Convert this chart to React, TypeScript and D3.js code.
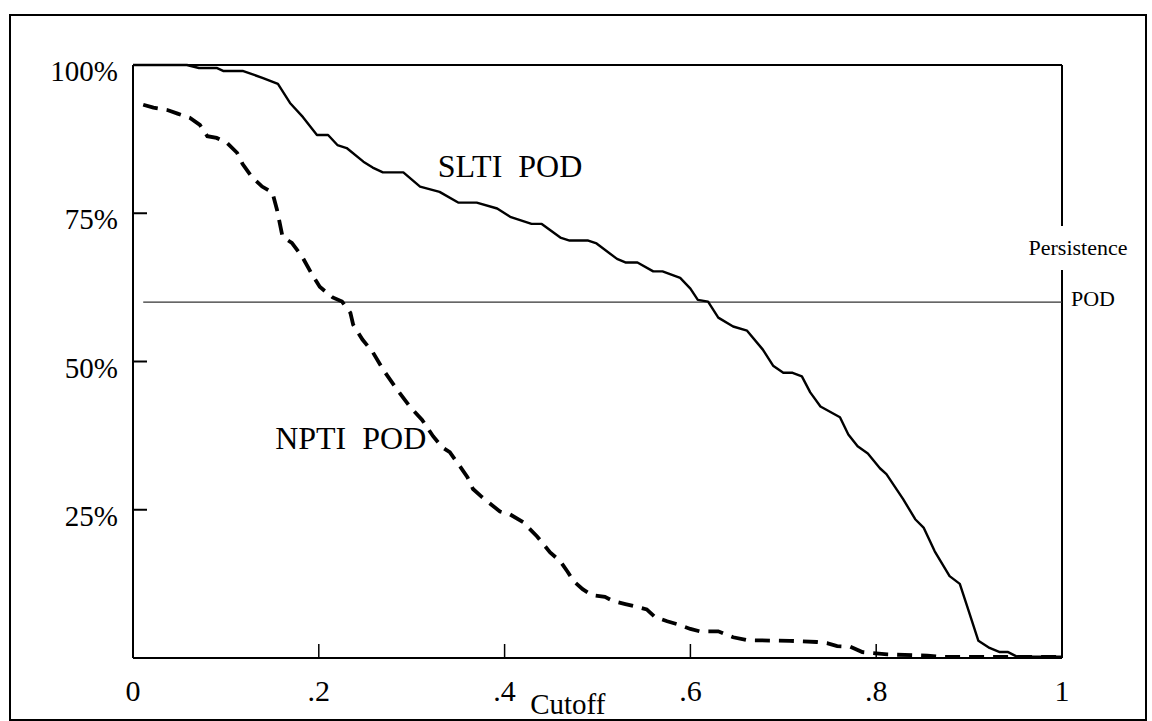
import { useMemo } from 'react';
import * as d3 from 'd3';

// SLTI POD (solid curve)
const sltiCutoff = [0, 0.058, 0.071, 0.09, 0.097, 0.118, 0.14, 0.156, 0.169, 0.183, 0.198, 0.21, 0.22, 0.23, 0.248, 0.258, 0.269, 0.291, 0.309, 0.33, 0.35, 0.37, 0.392, 0.406, 0.429, 0.44, 0.46, 0.47, 0.49, 0.499, 0.521, 0.53, 0.543, 0.56, 0.57, 0.589, 0.6, 0.608, 0.619, 0.63, 0.646, 0.661, 0.678, 0.689, 0.7, 0.71, 0.72, 0.729, 0.74, 0.761, 0.77, 0.78, 0.791, 0.804, 0.811, 0.829, 0.842, 0.851, 0.863, 0.879, 0.89, 0.899, 0.91, 0.922, 0.933, 0.942, 0.952, 1.0];
const sltiPod = [100, 100, 99.5, 99.5, 99, 99, 97.8, 96.8, 93.6, 91.2, 88.2, 88.2, 86.5, 86, 83.7, 82.7, 81.9, 81.9, 79.5, 78.6, 76.8, 76.8, 75.8, 74.4, 73.2, 73.2, 70.9, 70.4, 70.4, 69.9, 67.3, 66.7, 66.7, 65.2, 65.2, 64.1, 62.3, 60.4, 60.1, 57.4, 55.9, 55.2, 52.0, 49.3, 48.1, 48.1, 47.5, 44.8, 42.4, 40.6, 37.7, 35.7, 34.5, 32.0, 31.0, 26.8, 23.4, 22.0, 18.0, 13.8, 12.5, 8.2, 2.9, 1.7, 1.0, 1.0, 0.2, 0.2];

// NPTI POD (dashed curve)
const nptiCutoff = [0.011, 0.022, 0.037, 0.048, 0.061, 0.072, 0.08, 0.09, 0.101, 0.112, 0.118, 0.128, 0.139, 0.15, 0.155, 0.161, 0.171, 0.182, 0.193, 0.201, 0.215, 0.225, 0.234, 0.237, 0.247, 0.258, 0.269, 0.284, 0.298, 0.311, 0.323, 0.333, 0.341, 0.352, 0.36, 0.366, 0.376, 0.395, 0.406, 0.42, 0.435, 0.449, 0.46, 0.468, 0.474, 0.484, 0.494, 0.508, 0.517, 0.53, 0.543, 0.553, 0.562, 0.575, 0.586, 0.6, 0.61, 0.63, 0.646, 0.661, 0.707, 0.736, 0.747, 0.758, 0.772, 0.785, 0.812, 0.855, 0.872, 0.933, 0.998];
const nptiPod = [93.3, 92.8, 92.4, 91.8, 91.1, 89.9, 88.0, 87.7, 86.9, 85.2, 83.3, 81.1, 79.5, 78.5, 75.6, 71.0, 70.0, 67.7, 64.6, 62.6, 60.8, 60.1, 58.2, 56.2, 53.7, 51.6, 48.7, 45.3, 42.4, 40.2, 37.4, 35.5, 34.7, 32.3, 30.5, 28.5, 27.1, 24.7, 24.2, 22.9, 20.5, 17.8, 16.3, 14.5, 13.0, 11.6, 10.6, 10.3, 9.6, 9.1, 8.6, 8.2, 6.9, 6.2, 5.7, 4.9, 4.5, 4.5, 3.5, 3.0, 2.9, 2.7, 2.5, 2.0, 1.9, 1.0, 0.6, 0.4, 0.2, 0.2, 0.2];

const persistencePod = 60;

const xTicks = [0, 0.2, 0.4, 0.6, 0.8, 1];
const xTickLabels = ['0', '.2', '.4', '.6', '.8', '1'];
const yTicks = [25, 50, 75, 100];
const yTickLabels = ['25%', '50%', '75%', '100%'];

const FONT = '"Liberation Serif", "Times New Roman", serif';

export default function App() {
  const x = useMemo(() => d3.scaleLinear().domain([0, 1]).range([133, 1062]), []);
  const y = useMemo(() => d3.scaleLinear().domain([0, 100]).range([658, 65]), []);

  const line = d3
    .line<[number, number]>()
    .x((d) => x(d[0]))
    .y((d) => y(d[1]));

  const sltiPath = line(sltiCutoff.map((c, i) => [c, sltiPod[i]])) || '';
  const nptiPath = line(nptiCutoff.map((c, i) => [c, nptiPod[i]])) || '';

  const [x0, x1] = x.range();
  const [yBottom, yTop] = y.range();
  // gap in the right frame where the "Persistence" label sits
  const gapTop = 226;
  const gapBottom = 270;

  return (
    <>
      <style>{`body{margin:0;background:#fff}`}</style>
      <svg width={1152} height={721} style={{ display: 'block', fontFamily: FONT }}>
        <rect x={0} y={0} width={1152} height={721} fill="#fff" />
        {/* outer frame */}
        <rect x={10} y={15} width={1136} height={705} fill="none" stroke="#000" strokeWidth={2} />

        {/* plot frame */}
        <line x1={x0} y1={yTop} x2={x1} y2={yTop} stroke="#000" strokeWidth={2} />
        <line x1={x0} y1={yTop} x2={x0} y2={yBottom} stroke="#000" strokeWidth={2} />
        <line x1={x0} y1={yBottom} x2={x1} y2={yBottom} stroke="#000" strokeWidth={2} />
        <line x1={x1} y1={yTop} x2={x1} y2={gapTop} stroke="#000" strokeWidth={2} />
        <line x1={x1} y1={gapBottom} x2={x1} y2={yBottom} stroke="#000" strokeWidth={2} />

        {/* y ticks */}
        {yTicks.map((t, i) => (
          <g key={t}>
            {t < 100 ? <line x1={x0} x2={x0 + 14} y1={y(t)} y2={y(t)} stroke="#000" strokeWidth={2} /> : null}
            <text x={118} y={y(t) + 16} textAnchor="end" fontSize={29}>
              {yTickLabels[i]}
            </text>
          </g>
        ))}

        {/* x ticks */}
        {xTicks.map((t, i) => (
          <g key={t}>
            {t > 0 && t < 1 ? <line x1={x(t)} x2={x(t)} y1={yBottom} y2={yBottom - 14} stroke="#000" strokeWidth={1.5} /> : null}
            <text x={x(t)} y={701} textAnchor="middle" fontSize={30}>
              {xTickLabels[i]}
            </text>
          </g>
        ))}
        <text x={x(0.468)} y={714} textAnchor="middle" fontSize={29}>
          Cutoff
        </text>

        {/* persistence reference */}
        <line x1={x(0.011)} x2={x1} y1={y(persistencePod)} y2={y(persistencePod)} stroke="#333" strokeWidth={1.2} />
        <text x={1078} y={255} textAnchor="middle" fontSize={22}>
          Persistence
        </text>
        <text x={1071} y={306} fontSize={22}>
          POD
        </text>

        {/* curves */}
        <path d={sltiPath} fill="none" stroke="#000" strokeWidth={2.4} strokeLinejoin="round" />
        <path d={nptiPath} fill="none" stroke="#000" strokeWidth={3.8} strokeDasharray="15 9" />

        <text x={x(0.328)} y={y(81.1)} fontSize={32} xmlSpace="preserve">
          SLTI  POD
        </text>
        <text x={x(0.153)} y={y(35.3)} fontSize={32} xmlSpace="preserve">
          NPTI  POD
        </text>
      </svg>
    </>
  );
}
